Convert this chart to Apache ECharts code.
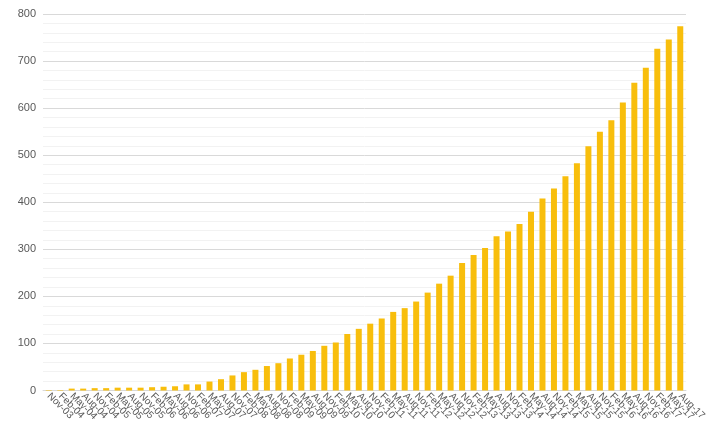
<!DOCTYPE html>
<html>
<head>
<meta charset="utf-8">
<script src="https://cdn.jsdelivr.net/npm/echarts@6/dist/echarts.min.js"></script>
<style>html,body{margin:0;padding:0;background:#fff}#c{width:711px;height:432px}</style>
</head>
<body>
<div id="c"></div>
<script>
const categories = ['Nov-03','Feb-04','May-04','Aug-04','Nov-04','Feb-05','May-05','Aug-05','Nov-05','Feb-06','May-06','Aug-06','Nov-06','Feb-07','May-07','Aug-07','Nov-07','Feb-08','May-08','Aug-08','Nov-08','Feb-09','May-09','Aug-09','Nov-09','Feb-10','May-10','Aug-10','Nov-10','Feb-11','May-11','Aug-11','Nov-11','Feb-12','May-12','Aug-12','Nov-12','Feb-13','May-13','Aug-13','Nov-13','Feb-14','May-14','Aug-14','Nov-14','Feb-15','May-15','Aug-15','Nov-15','Feb-16','May-16','Aug-16','Nov-16','Feb-17','May-17','Aug-17'];
const values = [1,1,4,4,5,5,6,6,6,7,8,9,13,13,19,24,32,39,44,52,58,68,76,84,95,102,120,131,142,153,167,175,189,208,227,244,271,288,303,328,338,354,380,408,429,455,483,519,550,574,612,654,686,726,746,774];
const yTicks = [0,100,200,300,400,500,600,700,800];

const chart = echarts.init(document.getElementById('c'), null, {renderer:'canvas'});
chart.setOption({
  animation: false,
  backgroundColor: '#ffffff',
  textStyle: {fontFamily: 'Liberation Sans, Arial, sans-serif'},
  grid: {left: 43, right: 25, top: 14, bottom: 41.5, containLabel: false},
  xAxis: {
    type: 'category',
    data: categories,
    axisLine: {lineStyle: {color: '#d9d9d9', width: 1}},
    axisTick: {show: false},
    axisLabel: {interval: 0, rotate: -45, color: '#595959', fontSize: 10, margin: 4}
  },
  yAxis: {
    type: 'value',
    min: yTicks[0], max: yTicks[yTicks.length-1], interval: 100,
    axisLine: {show: false},
    axisTick: {show: false},
    axisLabel: {color: '#595959', fontSize: 11, margin: 7},
    splitLine: {lineStyle: {color: '#d9d9d9', width: 1}},
    minorTick: {show: false, splitNumber: 5},
    minorSplitLine: {show: true, lineStyle: {color: '#f2f2f2', width: 1}}
  },
  series: [{
    type: 'bar',
    data: values,
    barWidth: 6,
    itemStyle: {color: '#F8BE0C'}
  }]
});
</script>
</body>
</html>
